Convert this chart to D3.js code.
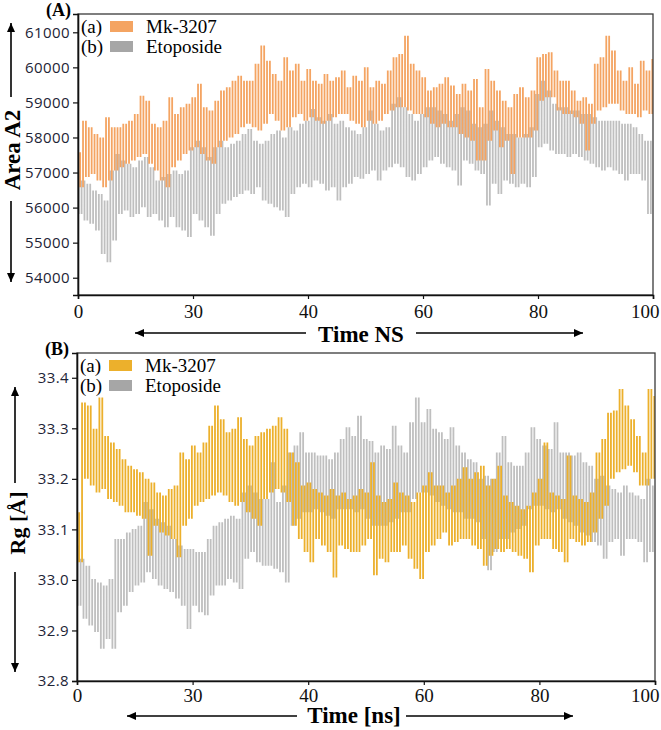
<!DOCTYPE html>
<html><head><meta charset="utf-8">
<script src="https://cdn.jsdelivr.net/npm/d3@7/dist/d3.min.js"></script>
<style>body{margin:0;background:#fff}svg{display:block}</style>
</head><body>
<svg id="chart" width="661" height="730"></svg>
<script>
// ---------- data ----------
const timeStep = 0.5; // ns between samples
const xTickValues = [0, 20, 40, 60, 80, 100];
const xTickLabels = ["0", "30", "40", "60", "80", "100"];
const areaYTicks = [54000, 55000, 56000, 57000, 58000, 59000, 60000, 61000];
const rgYTicks = [32.8, 32.9, 33.0, 33.1, 33.2, 33.3, 33.4];
const seriesNames = ["Mk-3207", "Etoposide"];
const seriesTags = ["(a)", "(b)"];

// (A) SASA, Mk-3207
const areaMk = [
57580,56580,58480,56870,58290,56960,58100,56770,58000,56580,58580,56770,58290,57060,58290,57150,58390,57250,58480,57340,
58670,57440,59190,57530,59050,57250,58390,57060,58290,56770,58480,56580,59150,57150,58670,57340,58860,57530,58960,57630,
59150,57720,59530,57530,58860,57340,58770,57250,59050,57720,59340,57910,59430,58000,59620,58100,59760,58290,59620,58390,
59620,58290,60100,58200,60620,58390,60190,58670,59810,58480,59620,58200,60290,58290,59910,58580,60100,58670,59620,58480,
59950,58580,59620,58480,59530,58390,59810,58480,59620,58580,59720,58670,59910,58670,59430,58480,59760,58390,59620,58290,
60000,58480,59430,58390,59620,58480,59530,58670,59910,58770,60290,58860,60380,58860,60900,58770,60100,58670,59910,58670,
59720,58580,59340,58390,59430,58290,59530,58390,59720,58290,59480,58290,59240,58100,59530,58000,59340,57910,59670,57340,
58860,57340,59950,57910,59620,58200,59340,57720,59050,57910,58860,56960,59240,58000,59430,58000,59150,58000,59340,58200,
60290,59050,60380,59150,60430,59150,59910,58770,59620,58670,59620,58670,59340,58580,59050,58390,59150,57630,58960,58390,
60100,58770,60290,58860,60900,58960,60480,58960,59910,58770,59620,58670,60000,58670,59530,58580,60190,58770,59910,58670,
60240];
// (A) SASA, Etoposide
const areaEto = [
57060,55820,56770,55630,56680,55540,56490,55350,56390,54680,56200,54440,57060,55060,57530,55820,57340,55920,57250,55730,
57150,55820,57340,56010,57440,55730,57150,55820,56770,55630,56870,55440,56960,55730,57060,55440,56960,55350,57060,55160,
57720,55820,57910,55630,57720,55440,57440,55200,57720,55820,57910,56110,57720,56200,57820,56300,57910,56390,58100,56490,
58240,56390,57910,56580,57820,56200,57910,56110,58100,56010,58200,55920,58000,55730,58290,56390,58200,56580,58390,56680,
58480,56580,58810,56770,58580,56680,58480,56490,58670,56580,58390,56200,58480,56580,58290,56680,58200,56870,58100,56820,
58290,56960,58770,57060,58390,56770,58200,57060,58290,57150,58960,57250,59150,57150,58860,56870,58670,56770,58480,56960,
58670,57150,58860,57340,58860,57440,58770,57250,58670,57150,58480,57060,58670,56630,58860,57340,58770,57250,58390,57060,
58290,56960,58390,56060,58770,56680,58480,56390,58290,56770,58100,56680,58100,56580,58000,56680,58100,56580,58290,56870,
59240,57720,59620,57820,59340,57630,58960,57530,58860,57530,58860,57440,58770,57530,58770,57440,58670,57340,58670,57250,
58580,57150,58480,57060,58480,57150,58480,57060,58480,56960,58390,56770,58390,56960,58290,56960,58100,56770,57910,55820,
57910];
// (B) Rg, Mk-3207
const rgMk = [
33.134,33.035,33.351,33.200,33.345,33.187,33.299,33.173,33.361,33.180,33.285,33.160,33.272,33.154,33.259,33.147,33.239,33.134,33.226,33.134,
33.219,33.127,33.213,33.121,33.200,33.048,33.193,33.107,33.173,33.094,33.167,33.088,33.180,33.081,33.187,33.045,33.252,33.107,33.239,33.121,
33.266,33.147,33.252,33.154,33.272,33.160,33.305,33.167,33.345,33.173,33.318,33.167,33.292,33.154,33.299,33.147,33.322,33.154,33.279,33.134,
33.266,33.121,33.285,33.107,33.292,33.160,33.299,33.173,33.305,33.180,33.322,33.173,33.299,33.154,33.252,33.107,33.233,33.081,33.187,33.055,
33.193,33.035,33.180,33.081,33.173,33.068,33.167,33.055,33.180,33.005,33.167,33.068,33.173,33.061,33.160,33.055,33.167,33.055,33.180,33.068,
33.173,33.081,33.233,33.009,33.167,33.042,33.154,33.035,33.160,33.055,33.193,33.055,33.173,33.068,33.167,33.042,33.154,33.022,33.173,33.002,
33.187,33.055,33.213,33.068,33.187,33.081,33.187,33.094,33.173,33.068,33.187,33.075,33.200,33.081,33.223,33.081,33.200,33.068,33.213,33.061,
33.226,33.028,33.187,33.048,33.200,33.061,33.226,33.055,33.167,33.061,33.154,33.055,33.147,33.048,33.140,33.042,33.147,33.015,33.173,33.068,
33.200,33.081,33.272,33.081,33.173,33.061,33.167,33.055,33.160,33.035,33.246,33.081,33.167,33.075,33.160,33.068,33.154,33.075,33.173,33.094,
33.252,33.121,33.279,33.147,33.331,33.200,33.335,33.213,33.378,33.219,33.345,33.226,33.318,33.213,33.285,33.187,33.252,33.187,33.378,33.200,
33.364];
// (B) Rg, Etoposide
const rgEto = [
33.068,32.949,33.042,32.923,33.028,32.910,33.002,32.897,32.995,32.864,32.989,32.883,33.002,32.864,33.081,32.936,33.081,32.949,33.094,32.976,
33.101,32.989,33.107,32.995,33.154,33.015,33.140,33.002,33.121,32.989,33.114,32.982,33.107,32.976,33.081,32.963,33.068,32.949,33.061,32.903,
33.061,32.949,33.055,32.936,33.055,32.930,33.081,32.969,33.107,32.989,33.114,32.989,33.121,33.002,33.127,32.995,33.121,32.982,33.173,33.042,
33.187,33.055,33.173,33.035,33.160,33.028,33.160,33.028,33.233,33.022,33.154,33.015,33.187,32.995,33.252,33.107,33.266,33.121,33.292,33.134,
33.252,33.134,33.252,33.140,33.246,33.134,33.246,33.127,33.239,33.121,33.252,33.140,33.279,33.140,33.302,33.140,33.285,33.134,33.325,33.140,
33.279,33.121,33.275,33.107,33.252,33.107,33.266,33.107,33.259,33.114,33.305,33.121,33.266,33.134,33.252,33.134,33.312,33.160,33.361,33.173,
33.312,33.173,33.338,33.167,33.299,33.154,33.292,33.147,33.279,33.140,33.302,33.134,33.266,33.134,33.252,33.121,33.239,33.121,33.233,33.114,
33.200,33.081,33.206,33.019,33.200,33.055,33.252,33.081,33.285,33.081,33.233,33.094,33.226,33.101,33.226,33.107,33.252,33.140,33.302,33.147,
33.279,33.147,33.266,33.140,33.259,33.134,33.312,33.140,33.252,33.121,33.252,33.114,33.246,33.107,33.252,33.094,33.233,33.088,33.226,33.075,
33.200,33.068,33.206,33.042,33.187,33.075,33.180,33.081,33.173,33.048,33.187,33.081,33.173,33.081,33.167,33.075,33.160,33.035,33.200,33.055,
33.187];

// ---------- drawing ----------
const svg = d3.select("#chart");
const serif = "'Liberation Serif', 'Times New Roman', serif";
const sans = "'Open Sans', 'Noto Sans', sans-serif";

function arrow(g, x1, y1, x2, y2) {
  g.append("line").attr("x1", x1).attr("y1", y1).attr("x2", x2).attr("y2", y2)
    .attr("stroke", "#000").attr("stroke-width", 1.6);
  const a = Math.atan2(y2 - y1, x2 - x1), L = 9, W = 4;
  const p = [[x2, y2],
    [x2 - L * Math.cos(a) + W * Math.sin(a), y2 - L * Math.sin(a) - W * Math.cos(a)],
    [x2 - L * Math.cos(a) - W * Math.sin(a), y2 - L * Math.sin(a) + W * Math.cos(a)]];
  g.append("path").attr("d", "M" + p.join("L") + "Z").attr("fill", "#000");
}

// dense trace drawn as vertical strokes between consecutive samples
function tracePath(values, x, y, frac) {
  let d = "";
  for (let i = 0; i < values.length - 1; i++) {
    const xm = x((i + frac) * timeStep);
    d += `M${xm},${y(values[i])}V${y(values[i + 1])}`;
  }
  return d;
}

function panel(o) {
  const g = svg.append("g");
  const x = d3.scaleLinear().domain([0, 100]).range([o.x0, o.x1]);
  const y = d3.scaleLinear().domain(o.yDomain).range([o.y1, o.y0]);
  const clipId = "clip" + o.id;
  svg.append("clipPath").attr("id", clipId).append("rect")
    .attr("x", o.x0).attr("y", o.y0).attr("width", o.x1 - o.x0).attr("height", o.y1 - o.y0);

  const plot = g.append("g").attr("clip-path", `url(#${clipId})`);
  // Etoposide first, Mk-3207 on top
  plot.append("path").attr("d", tracePath(o.eto, x, y, 0.25)).attr("fill", "none")
    .attr("stroke", o.etoColor).attr("stroke-width", 1.8);
  plot.append("path").attr("d", tracePath(o.mk, x, y, 0.75)).attr("fill", "none")
    .attr("stroke", o.mkColor).attr("stroke-width", 1.8);

  // frame
  g.append("rect").attr("x", o.x0).attr("y", o.y0).attr("width", o.x1 - o.x0).attr("height", o.y1 - o.y0)
    .attr("fill", "none").attr("stroke", "#3a3a3a").attr("stroke-width", 1.3);

  // x axis
  const xa = g.append("g").attr("transform", `translate(0,${o.y1})`)
    .call(d3.axisBottom(x).tickValues(xTickValues).tickSize(4).tickFormat((d, i) => xTickLabels[i]));
  xa.select(".domain").attr("stroke", "#111").attr("stroke-width", 1.6);
  xa.selectAll(".tick line").attr("stroke", "#111").attr("stroke-width", 1.2);
  xa.selectAll(".tick text").attr("font-family", serif).attr("font-size", 19).attr("fill", "#111")
    .attr("dy", o.xLabelDy);
  xa.selectAll(".tick text").filter((d, i) => i === xTickValues.length - 1)
    .attr("text-anchor", "end").attr("dx", 659 - o.x1);

  // y axis
  const ya = g.append("g").attr("transform", `translate(${o.x0},0)`)
    .call(d3.axisLeft(y).tickValues(o.yTicks).tickSize(5).tickPadding(3).tickFormat(o.yFormat));
  ya.select(".domain").attr("stroke", "#111").attr("stroke-width", 1.6);
  ya.selectAll(".tick line").attr("stroke", "#111").attr("stroke-width", 1.2);
  ya.selectAll(".tick text").attr("font-family", sans).attr("font-size", 15).attr("fill", "#1d2436")
    .attr("letter-spacing", 0.4);

  // panel letter
  g.append("text").attr("x", o.x0 - 32).attr("y", o.y0 + 2).text(o.letter)
    .attr("font-family", serif).attr("font-weight", "bold").attr("font-size", 18);

  // legend
  const colors = [o.mkColor, o.etoSwatch];
  seriesNames.forEach((name, i) => {
    const by = o.y0 + 19 + i * 20;
    g.append("text").attr("x", o.x0 + 3).attr("y", by).text(seriesTags[i])
      .attr("font-family", serif).attr("font-size", 19);
    g.append("rect").attr("x", o.x0 + 32).attr("y", by - 12).attr("width", 23).attr("height", 11)
      .attr("fill", colors[i]);
    g.append("text").attr("x", o.x0 + 68).attr("y", by).text(name)
      .attr("font-family", serif).attr("font-size", 19);
  });

  // x label with arrows
  g.append("text").attr("x", o.xl.cx).attr("y", o.xl.base).text(o.xLabel)
    .attr("text-anchor", "middle").attr("font-family", serif).attr("font-weight", "bold").attr("font-size", 23);
  arrow(g, o.xl.l2, o.xl.ay, o.xl.l1, o.xl.ay);
  arrow(g, o.xl.r1, o.xl.ay, o.xl.r2, o.xl.ay);

  // y label with arrows
  g.append("text").attr("transform", `translate(${o.yl.cx},${o.yl.cy}) rotate(-90)`)
    .attr("text-anchor", "middle").attr("dominant-baseline", "central").text(o.yLabel)
    .attr("font-family", serif).attr("font-weight", "bold").attr("font-size", o.yl.fs);
  arrow(g, o.yl.ax, o.yl.u2, o.yl.ax, o.yl.u1);
  arrow(g, o.yl.ax, o.yl.d1, o.yl.ax, o.yl.d2);
}

panel({
  id: "A", letter: "(A)", x0: 78, x1: 653, y0: 14, y1: 295,
  yDomain: [53507, 61522], yTicks: areaYTicks, yFormat: d3.format("d"),
  mk: areaMk, eto: areaEto, mkColor: "#f4a462", etoColor: "#bfbfbf", etoSwatch: "#a6a6a6",
  xLabelDy: "0.85em", xLabel: "Time NS", yLabel: "Area A2",
  xl: { cx: 361, base: 342, ay: 333, l1: 135, l2: 306, r1: 416, r2: 583 },
  yl: { cx: 12, cy: 150, fs: 23, ax: 11, u1: 23, u2: 97, d1: 201, d2: 282 }
});

panel({
  id: "B", letter: "(B)", x0: 77, x1: 655, y0: 353, y1: 681,
  yDomain: [32.8, 33.449], yTicks: rgYTicks, yFormat: d3.format(".1f"),
  mk: rgMk, eto: rgEto, mkColor: "#ecb02c", etoColor: "#bfbfbf", etoSwatch: "#a6a6a6",
  xLabelDy: "0.75em", xLabel: "Time [ns]", yLabel: "Rg [Å]",
  xl: { cx: 354, base: 723, ay: 716, l1: 127, l2: 297, r1: 406, r2: 573 },
  yl: { cx: 17, cy: 523, fs: 22, ax: 15, u1: 387, u2: 483, d1: 572, d2: 672 }
});
</script>
</body></html>
